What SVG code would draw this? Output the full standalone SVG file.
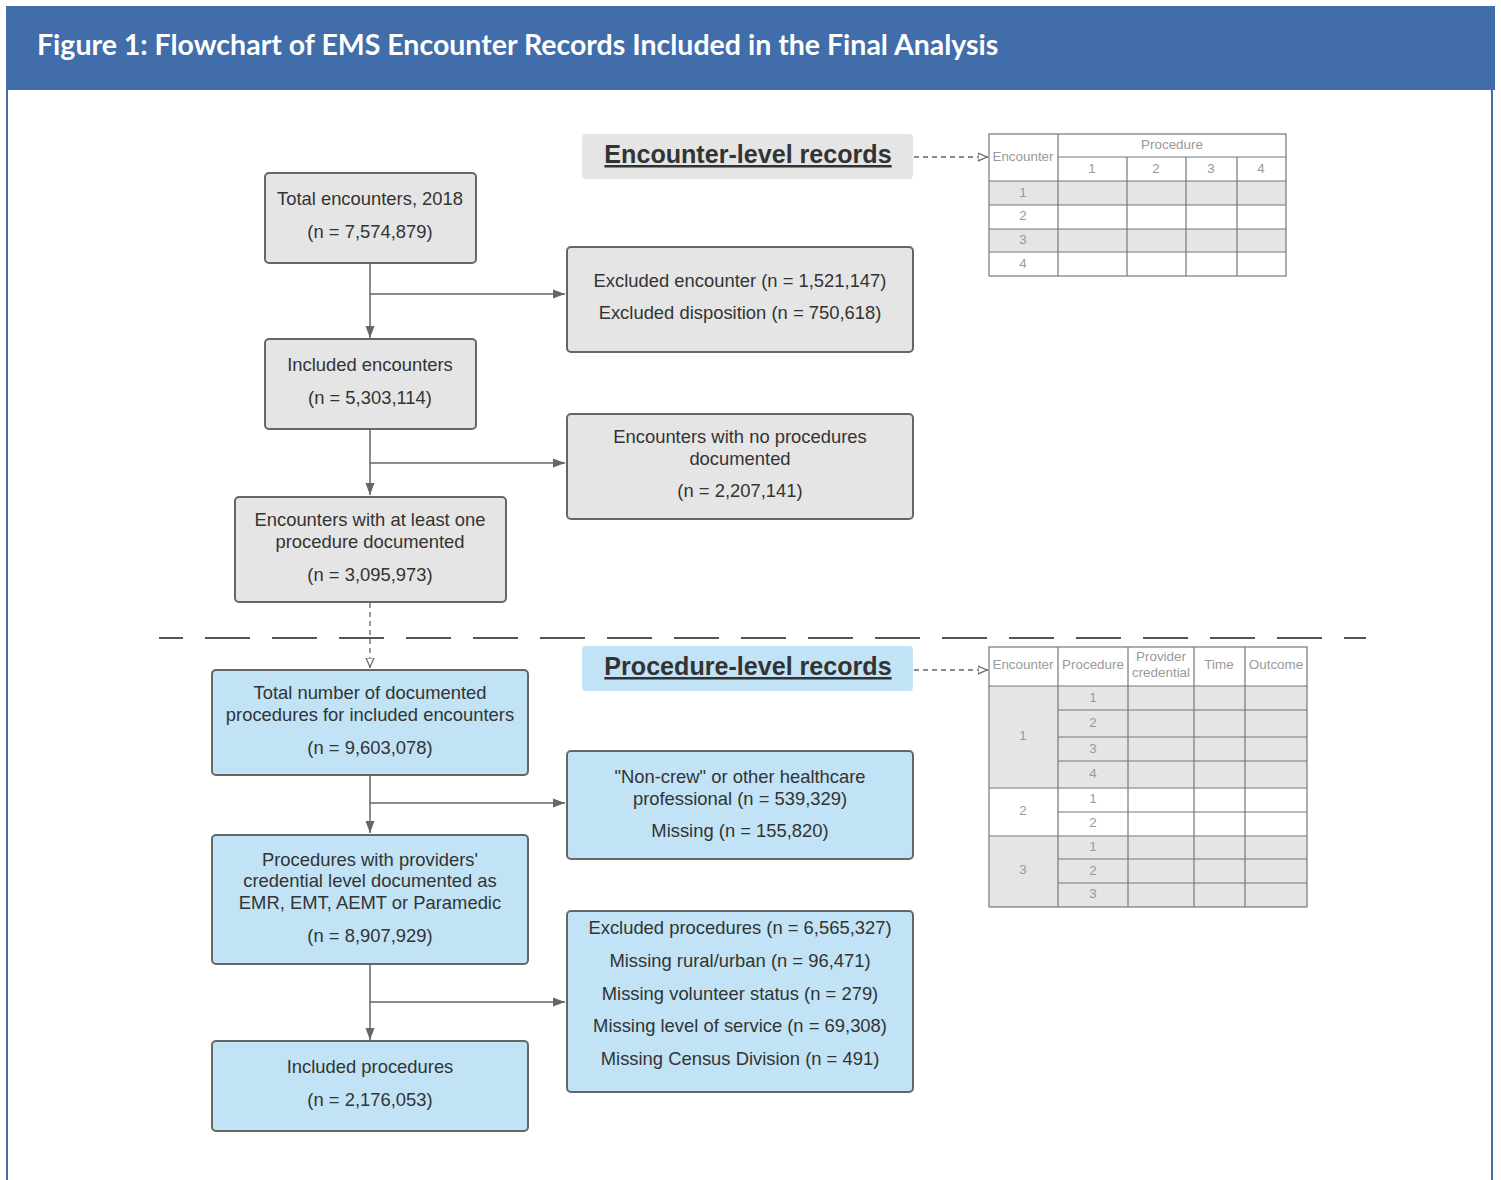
<svg xmlns="http://www.w3.org/2000/svg" width="1501" height="1180" viewBox="0 0 1501 1180">
<defs>
<style>
.hdr{fill:#416daa}
.box{stroke:#666;stroke-width:2}
.g{fill:#e5e5e5}
.b{fill:#c1e3f5}
.t{font-family:"Liberation Sans",Arial,sans-serif;font-size:18.4px;fill:#333;text-anchor:middle}
.lbl{font-family:"Liberation Sans",Arial,sans-serif;font-size:25.1px;font-weight:bold;fill:#333;text-anchor:middle;text-decoration:underline}
.ln{stroke:#666;stroke-width:1.5;fill:none}
.dl{stroke:#666;stroke-width:1.3;fill:none;stroke-dasharray:5 4}
.tb{stroke:#777;stroke-width:1.2;fill:none}
.tt{font-family:"Liberation Sans",Arial,sans-serif;font-size:13.4px;fill:#999;text-anchor:middle}
</style>
<marker id="ah" viewBox="0 0 12 10" refX="12" refY="5" markerWidth="12" markerHeight="10" markerUnits="userSpaceOnUse" orient="auto">
<path d="M0,0.5 L12,5 L0,9.5 z" fill="#666"/>
</marker>
<marker id="oh" viewBox="0 0 10 10" refX="10" refY="5" markerWidth="10" markerHeight="10" markerUnits="userSpaceOnUse" orient="auto">
<path d="M0,1 L9,5 L0,9 z" fill="#fff" stroke="#666" stroke-width="1.2"/>
</marker>
</defs>

<rect width="1501" height="1180" fill="#fff"/>
<!-- title banner and frame -->
<rect class="hdr" x="6" y="6" width="1489" height="84"/>
<line x1="7" y1="89" x2="7" y2="1180" stroke="#416daa" stroke-width="2"/>
<line x1="1492" y1="89" x2="1492" y2="1180" stroke="#416daa" stroke-width="2"/>
<text x="37" y="55" font-family="Lato,'Open Sans',sans-serif" font-weight="bold" font-size="28.5" fill="#fff">Figure 1: Flowchart of EMS Encounter Records Included in the Final Analysis</text>

<!-- section separator -->
<line x1="159" y1="638" x2="1366" y2="638" stroke="#555" stroke-width="2" stroke-dasharray="45 22" stroke-dashoffset="21"/>

<!-- connectors -->
<g id="connectors">
<path class="ln" d="M370,264 V338" marker-end="url(#ah)"/>
<path class="ln" d="M370,294 H565" marker-end="url(#ah)"/>
<path class="ln" d="M370,430 V495" marker-end="url(#ah)"/>
<path class="ln" d="M370,463 H565" marker-end="url(#ah)"/>
<path class="dl" d="M370,603 V668" marker-end="url(#oh)"/>
<path class="ln" d="M370,776 V833" marker-end="url(#ah)"/>
<path class="ln" d="M370,803 H565" marker-end="url(#ah)"/>
<path class="ln" d="M370,965 V1040" marker-end="url(#ah)"/>
<path class="ln" d="M370,1002 H565" marker-end="url(#ah)"/>
<path class="dl" d="M914,157 H988" marker-end="url(#oh)"/>
<path class="dl" d="M914,670 H988" marker-end="url(#oh)"/>
</g>

<!-- section labels -->
<g id="label-encounter">
<rect class="g" x="582" y="134" width="331" height="45" rx="4"/>
<text class="lbl" x="748" y="163">Encounter-level records</text>
</g>
<g id="label-procedure">
<rect class="b" x="582" y="646" width="331" height="45" rx="4"/>
<text class="lbl" x="748" y="675">Procedure-level records</text>
</g>

<!-- encounter-level nodes -->
<g id="n-total">
<rect class="box g" x="265" y="173" width="211" height="90" rx="4"/>
<text class="t" x="370" y="205">Total encounters, 2018</text>
<text class="t" x="370" y="238">(n = 7,574,879)</text>
</g>
<g id="n-excluded">
<rect class="box g" x="567" y="247" width="346" height="105" rx="4"/>
<text class="t" x="740" y="287">Excluded encounter (n = 1,521,147)</text>
<text class="t" x="740" y="319">Excluded disposition (n = 750,618)</text>
</g>
<g id="n-included">
<rect class="box g" x="265" y="339" width="211" height="90" rx="4"/>
<text class="t" x="370" y="371">Included encounters</text>
<text class="t" x="370" y="404">(n = 5,303,114)</text>
</g>
<g id="n-noproc">
<rect class="box g" x="567" y="414" width="346" height="105" rx="4"/>
<text class="t" x="740" y="443">Encounters with no procedures</text>
<text class="t" x="740" y="465">documented</text>
<text class="t" x="740" y="497">(n = 2,207,141)</text>
</g>
<g id="n-atleast">
<rect class="box g" x="235" y="497" width="271" height="105" rx="4"/>
<text class="t" x="370" y="526">Encounters with at least one</text>
<text class="t" x="370" y="548">procedure documented</text>
<text class="t" x="370" y="581">(n = 3,095,973)</text>
</g>

<!-- procedure-level nodes -->
<g id="n-totalproc">
<rect class="box b" x="212" y="670" width="316" height="105" rx="4"/>
<text class="t" x="370" y="699">Total number of documented</text>
<text class="t" x="370" y="721">procedures for included encounters</text>
<text class="t" x="370" y="754">(n = 9,603,078)</text>
</g>
<g id="n-noncrew">
<rect class="box b" x="567" y="751" width="346" height="108" rx="4"/>
<text class="t" x="740" y="783">"Non-crew" or other healthcare</text>
<text class="t" x="740" y="805">professional (n = 539,329)</text>
<text class="t" x="740" y="837">Missing (n = 155,820)</text>
</g>
<g id="n-credential">
<rect class="box b" x="212" y="835" width="316" height="129" rx="4"/>
<text class="t" x="370" y="866">Procedures with providers'</text>
<text class="t" x="370" y="887">credential level documented as</text>
<text class="t" x="370" y="909">EMR, EMT, AEMT or Paramedic</text>
<text class="t" x="370" y="942">(n = 8,907,929)</text>
</g>
<g id="n-exclproc">
<rect class="box b" x="567" y="911" width="346" height="181" rx="4"/>
<text class="t" x="740" y="934">Excluded procedures (n = 6,565,327)</text>
<text class="t" x="740" y="967">Missing rural/urban (n = 96,471)</text>
<text class="t" x="740" y="1000">Missing volunteer status (n = 279)</text>
<text class="t" x="740" y="1032">Missing level of service (n = 69,308)</text>
<text class="t" x="740" y="1065">Missing Census Division (n = 491)</text>
</g>
<g id="n-inclproc">
<rect class="box b" x="212" y="1041" width="316" height="90" rx="4"/>
<text class="t" x="370" y="1073">Included procedures</text>
<text class="t" x="370" y="1106">(n = 2,176,053)</text>
</g>

<!-- encounter-level table -->
<g id="table-encounter">
<rect x="989" y="181" width="297" height="24" fill="#e5e5e5"/>
<rect x="989" y="229" width="297" height="23" fill="#e5e5e5"/>
<rect class="tb" x="989" y="134" width="297" height="142"/>
<path class="tb" d="M1058,134 V276 M1058,157 H1286 M989,181 H1286 M989,205 H1286 M989,229 H1286 M989,252 H1286 M1127,157 V276 M1186,157 V276 M1237,157 V276"/>
<text class="tt" x="1023" y="161">Encounter</text>
<text class="tt" x="1172" y="149">Procedure</text>
<text class="tt" x="1092" y="173">1</text>
<text class="tt" x="1156" y="173">2</text>
<text class="tt" x="1211" y="173">3</text>
<text class="tt" x="1261" y="173">4</text>
<text class="tt" x="1023" y="197">1</text>
<text class="tt" x="1023" y="220">2</text>
<text class="tt" x="1023" y="244">3</text>
<text class="tt" x="1023" y="268">4</text>
</g>

<!-- procedure-level table -->
<g id="table-procedure">
<rect x="989" y="686" width="318" height="102" fill="#e5e5e5"/>
<rect x="989" y="836" width="318" height="71" fill="#e5e5e5"/>
<rect class="tb" x="989" y="647" width="318" height="260"/>
<path class="tb" d="M989,686 H1307 M989,788 H1307 M989,836 H1307 M1058,710 H1307 M1058,737 H1307 M1058,761 H1307 M1058,812 H1307 M1058,859 H1307 M1058,883 H1307 M1058,647 V907 M1128,647 V907 M1194,647 V907 M1245,647 V907"/>
<text class="tt" x="1023" y="669">Encounter</text>
<text class="tt" x="1093" y="669">Procedure</text>
<text class="tt" x="1161" y="661">Provider</text>
<text class="tt" x="1161" y="677">credential</text>
<text class="tt" x="1219" y="669">Time</text>
<text class="tt" x="1276" y="669">Outcome</text>
<text class="tt" x="1023" y="740">1</text>
<text class="tt" x="1023" y="815">2</text>
<text class="tt" x="1023" y="874">3</text>
<text class="tt" x="1093" y="702">1</text>
<text class="tt" x="1093" y="727">2</text>
<text class="tt" x="1093" y="753">3</text>
<text class="tt" x="1093" y="778">4</text>
<text class="tt" x="1093" y="803">1</text>
<text class="tt" x="1093" y="827">2</text>
<text class="tt" x="1093" y="851">1</text>
<text class="tt" x="1093" y="875">2</text>
<text class="tt" x="1093" y="898">3</text>
</g>
</svg>
